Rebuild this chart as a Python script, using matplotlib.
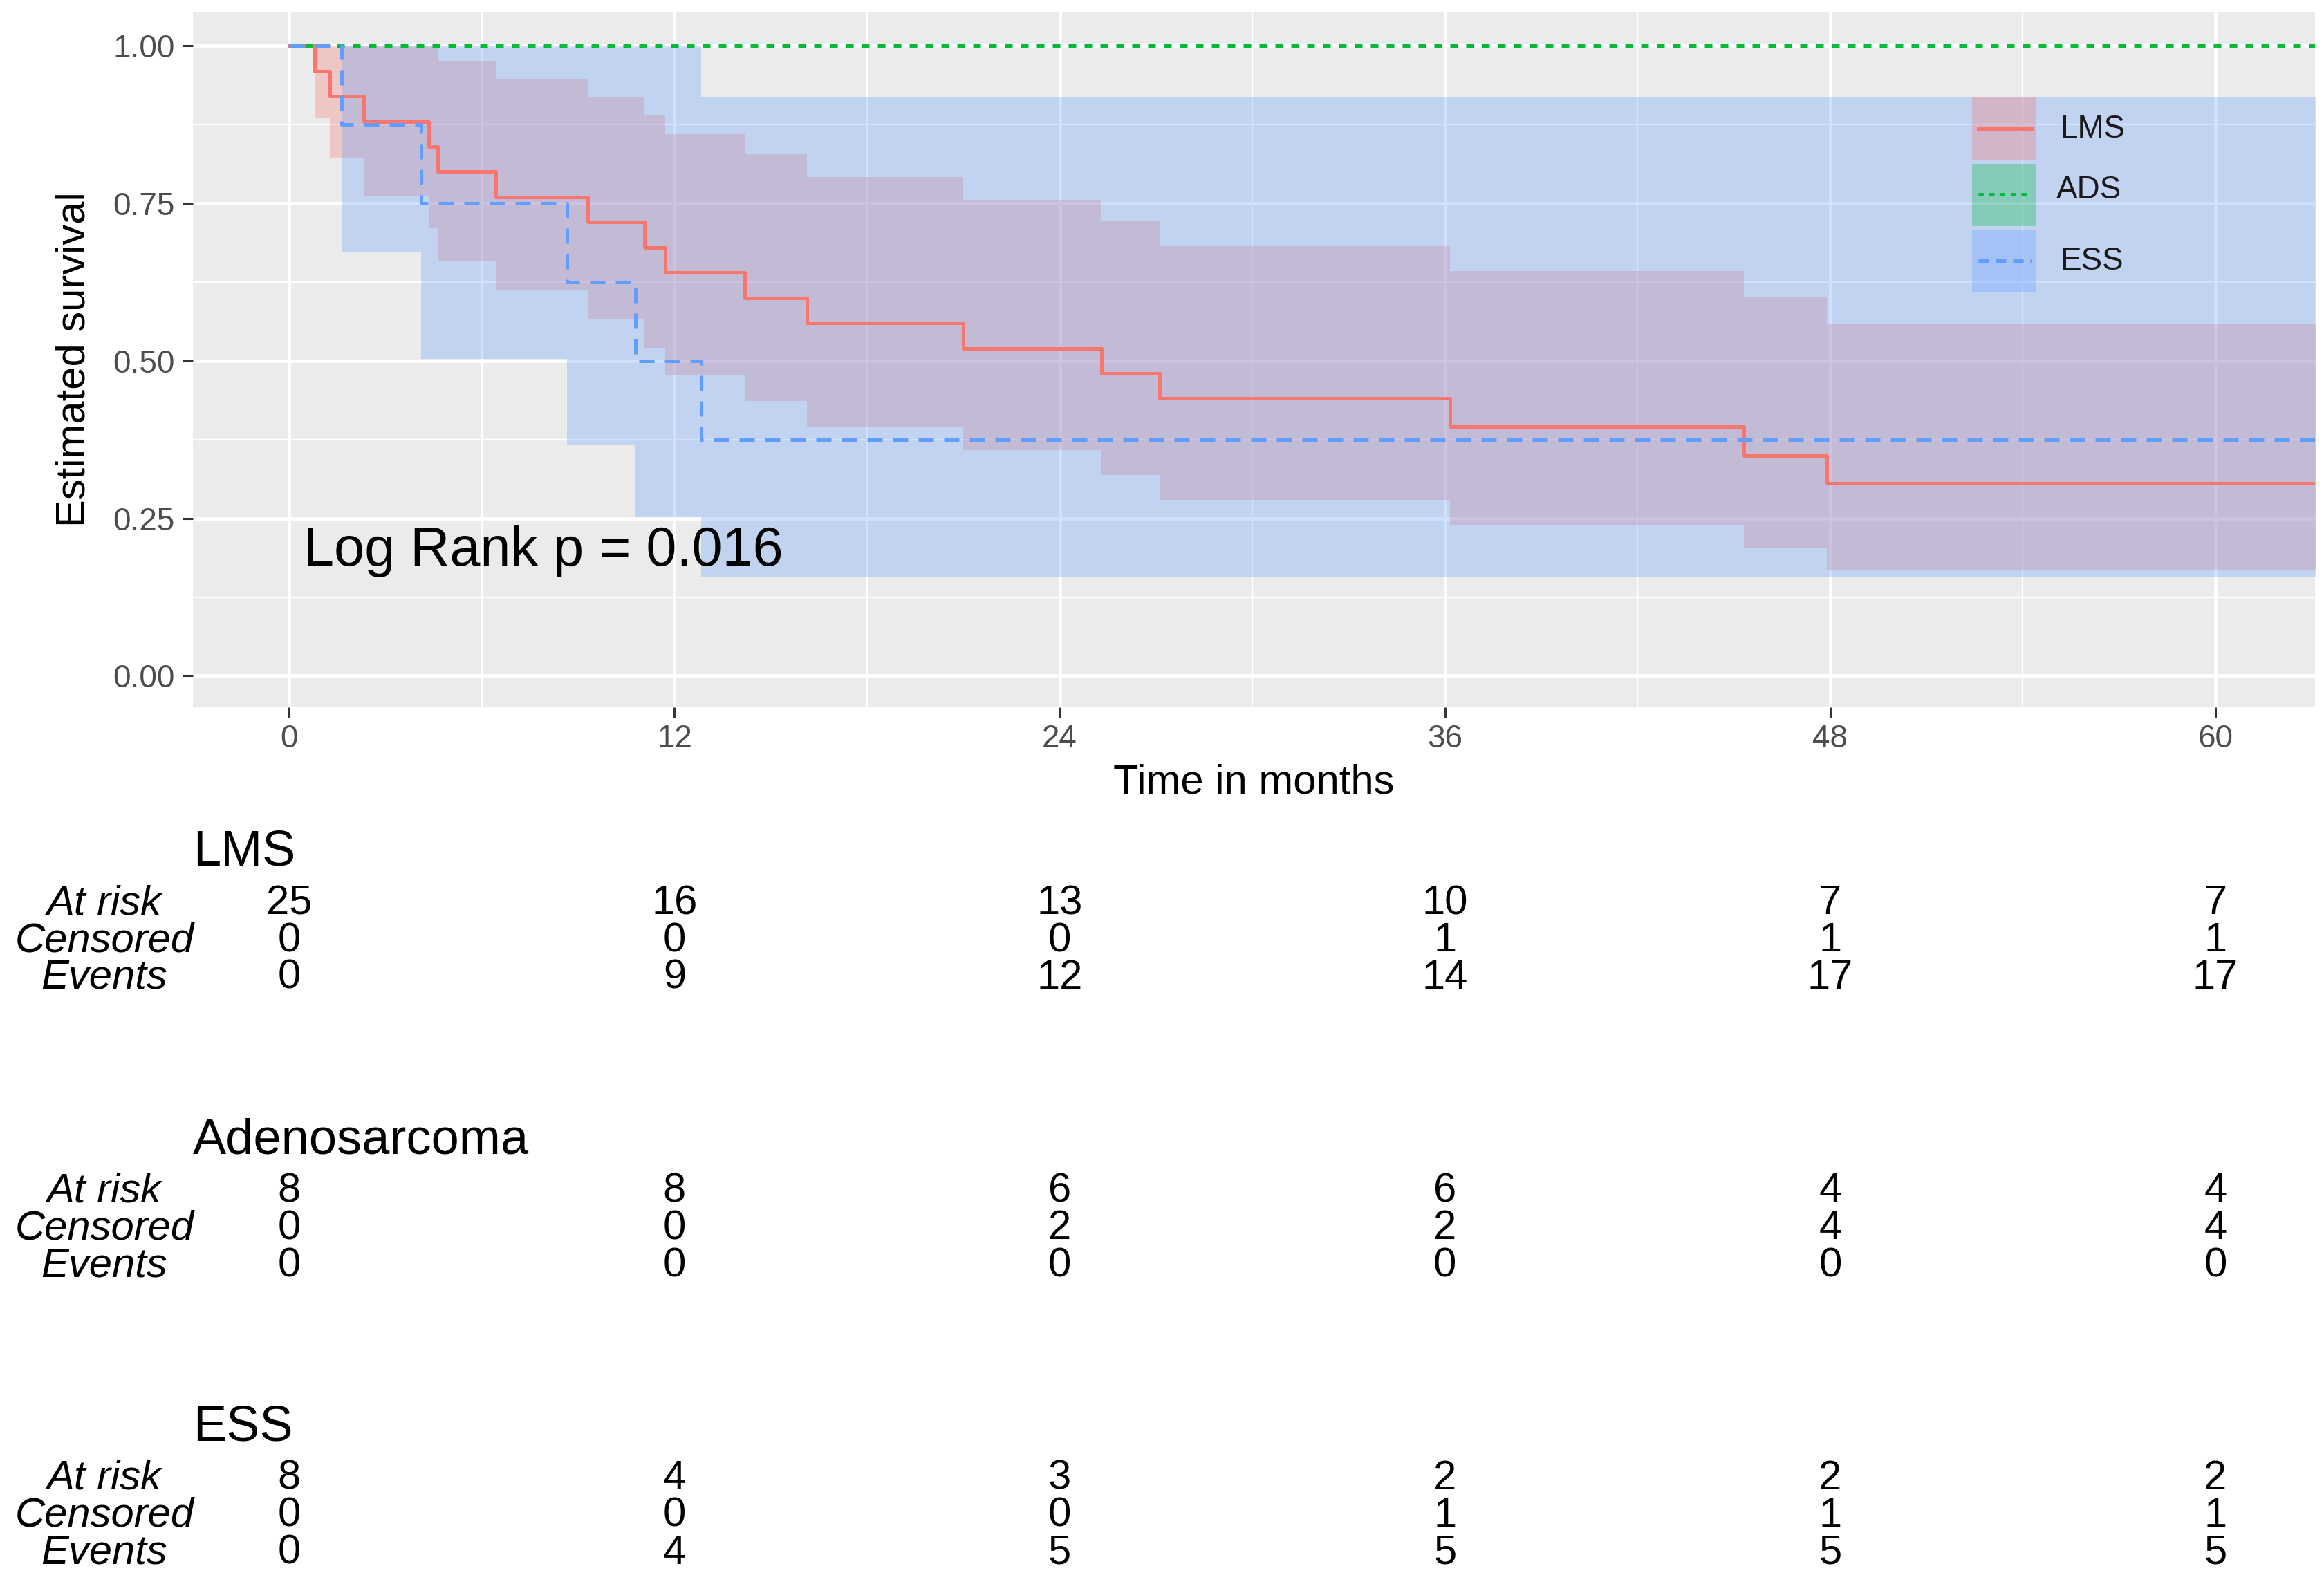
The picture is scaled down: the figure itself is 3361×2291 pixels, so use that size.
import numpy as np
import matplotlib
matplotlib.use("Agg")
import matplotlib.pyplot as plt
import matplotlib.transforms as mtransforms
from matplotlib.patches import Rectangle
from matplotlib.lines import Line2D

plt.rcParams['font.family'] = ['Liberation Sans', 'DejaVu Sans']

# --- survival curves (time in months) ---
lms_t = [0, 0.79, 1.27, 2.33, 4.35, 4.63, 6.43, 9.30, 11.06, 11.71, 14.19,
         16.12, 21.0, 25.3, 27.1, 36.15, 45.3, 47.9, 66.0]
lms_s = [1.0, 0.96, 0.92, 0.88, 0.84, 0.80, 0.76, 0.72, 0.68, 0.64, 0.60,
         0.56, 0.52, 0.48, 0.44, 0.396, 0.35, 0.306, 0.306]
lms_lo = [1.0, 0.886, 0.822, 0.762, 0.711, 0.659, 0.612, 0.566, 0.52, 0.477,
          0.436, 0.396, 0.358, 0.319, 0.279, 0.240, 0.202, 0.167, 0.167]
lms_hi = [1.0, 1.0, 1.0, 1.0, 1.0, 0.976, 0.948, 0.919, 0.890, 0.860,
          0.828, 0.792, 0.756, 0.721, 0.682, 0.642, 0.602, 0.559, 0.559]

ads_t = [0, 66.0]
ads_s = [1.0, 1.0]

ess_t = [0, 1.62, 4.11, 8.65, 10.78, 12.84, 66.0]
ess_s = [1.0, 0.875, 0.75, 0.625, 0.5, 0.375, 0.375]
ess_lo = [1.0, 0.673, 0.503, 0.366, 0.252, 0.156, 0.156]
ess_hi = [1.0, 1.0, 1.0, 1.0, 1.0, 0.919, 0.919]

# --- risk table ---
tab_times = [0, 12, 24, 36, 48, 60]
lms_risk = [25, 16, 13, 10, 7, 7]
lms_cens = [0, 0, 0, 1, 1, 1]
lms_ev = [0, 9, 12, 14, 17, 17]
ads_risk = [8, 8, 6, 6, 4, 4]
ads_cens = [0, 0, 2, 2, 4, 4]
ads_ev = [0, 0, 0, 0, 0, 0]
ess_risk = [8, 4, 3, 2, 2, 2]
ess_cens = [0, 0, 0, 1, 1, 1]
ess_ev = [0, 4, 5, 5, 5, 5]

RED = '#F8766D'
GREEN = '#00BA38'
BLUE = '#619CFF'

W, H = 3361, 2291
fig = plt.figure(figsize=(W / 100, H / 100), dpi=100)
# panel in pixels: left 279, right 3348, top 17, bottom 1023
ax = fig.add_axes([279 / W, 1 - 1023 / H, (3348 - 279) / W, (1023 - 17) / H])
ax.set_facecolor('#EBEBEB')
for s in ax.spines.values():
    s.set_visible(False)

ax.set_xlim(-3.0, 63.1)
ax.set_ylim(-0.05, 1.054)

ax.set_xticks([0, 12, 24, 36, 48, 60])
ax.set_xticks([6, 18, 30, 42, 54], minor=True)
ax.set_yticks([0, 0.25, 0.5, 0.75, 1.0])
ax.set_yticks([0.125, 0.375, 0.625, 0.875], minor=True)
ax.set_yticklabels(['0.00', '0.25', '0.50', '0.75', '1.00'])
ax.grid(which='major', color='white', lw=3.4)
ax.grid(which='minor', color='white', lw=1.7)
ax.set_axisbelow(True)
ax.tick_params(which='major', length=11, width=2.2, color='#333333',
               labelsize=33, labelcolor='#4D4D4D')
ax.tick_params(axis='x', which='major', pad=6)
ax.tick_params(axis='y', which='major', pad=8)
ax.tick_params(which='minor', length=0)

# confidence bands
ax.fill_between(lms_t, lms_lo, lms_hi, step='post', color=RED, alpha=0.3, lw=0)
ax.fill_between(ess_t, ess_lo, ess_hi, step='post', color=BLUE, alpha=0.3, lw=0)

# curves
ax.step(lms_t, lms_s, where='post', color=RED, lw=3.6)
ax.step(ads_t, ads_s, where='post', color=GREEN, lw=3.6, dashes=(2.2, 2.4))
ax.step(ess_t, ess_s, where='post', color=BLUE, lw=3.6, dashes=(4.4, 3.0))

ax.text(0.45, 0.198, 'Log Rank p = 0.016', fontsize=57, va='center', ha='left')

ax.set_xlabel('Time in months', fontsize=43, va='center')
ax.xaxis.set_label_coords(0.5, (1023 - 1132) / (1023 - 17))
ax.set_ylabel('Estimated survival', fontsize=43, va='center', ha='center')
ax.yaxis.set_label_coords((107 - 279) / (3348 - 279), 0.5)

# legend drawn inside the panel (axes fraction)
tA = ax.transAxes
keys = [(RED, 'LMS', (0.8777, 0.7863), 0.832, 0.880, 0.831, None),
        (GREEN, 'ADS', (0.7813, 0.6918), 0.7376, 0.8782, 0.7435, (1.5, 1.6)),
        (BLUE, 'ESS', (0.6869, 0.5974), 0.642, 0.880, 0.641, (3.0, 2.0))]
for col, lab, (top, bot), ly, tx, ty, dsh in keys:
    ax.add_patch(Rectangle((0.8384, bot), 0.0303, top - bot, transform=tA,
                           facecolor=col, alpha=0.3, lw=0, zorder=4))
    ln = Line2D([0.8414, 0.8664], [ly, ly], transform=tA, color=col, lw=3.6,
                zorder=5)
    if dsh:
        ln.set_dashes(dsh)
    ax.add_line(ln)
    ax.text(tx, ty, lab, transform=tA, fontsize=33, va='center', ha='left',
            color='#1A1A1A', zorder=5)

# risk table below the plot (row centres in pixels from the top)
blend = mtransforms.blended_transform_factory(ax.transData, fig.transFigure)
groups = [('LMS', 1233, [1307, 1361, 1414], lms_risk, lms_cens, lms_ev),
          ('Adenosarcoma', 1650, [1723, 1777, 1831], ads_risk, ads_cens, ads_ev),
          ('ESS', 2065, [2138, 2192, 2246], ess_risk, ess_cens, ess_ev)]
row_names = ['At risk', 'Censored', 'Events']
for name, ty, rows, risk, cens, ev in groups:
    fig.text(279 / W, 1 - ty / H, name, fontsize=52, ha='left', va='center')
    for rn, ry, vals in zip(row_names, rows, [risk, cens, ev]):
        fig.text(151 / W, 1 - ry / H, rn, fontsize=43, style='italic',
                 ha='center', va='center')
        for t, v in zip(tab_times, vals):
            ax.text(t, 1 - ry / H, str(v), transform=blend, fontsize=43,
                    ha='center', va='center', clip_on=False)

fig.savefig('out.png', dpi=100, facecolor='white')
